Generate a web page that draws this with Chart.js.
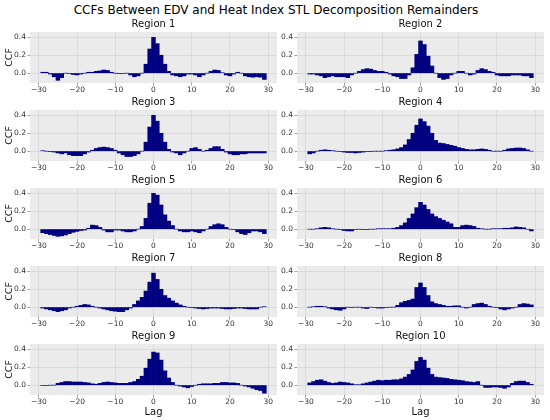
<!DOCTYPE html>
<html>
<head>
<meta charset="utf-8">
<script src="https://cdn.jsdelivr.net/npm/chart.js@4.4.0/dist/chart.umd.min.js"></script>
<style>
  html, body { margin: 0; padding: 0; background: #fff; }
  #fig { position: relative; width: 550px; height: 420px; overflow: hidden; font-family: 'DejaVu Sans', sans-serif; }
  #suptitle { position: absolute; left: 0; width: 552px; top: 3px; text-align: center; font-size: 12px; line-height: 15px; color: #000; }
  canvas { position: absolute; }
</style>
</head>
<body>
<div id="fig">
  <div id="suptitle">CCFs Between EDV and Heat Index STL Decomposition Remainders</div>
</div>
<script>
// lags -29 .. 29
const lags = [-29, -28, -27, -26, -25, -24, -23, -22, -21, -20,
              -19, -18, -17, -16, -15, -14, -13, -12, -11, -10,
              -9, -8, -7, -6, -5, -4, -3, -2, -1, 0,
              1, 2, 3, 4, 5, 6, 7, 8, 9, 10,
              11, 12, 13, 14, 15, 16, 17, 18, 19, 20,
              21, 22, 23, 24, 25, 26, 27, 28, 29];
const lagTicks = [-30, -20, -10, 0, 10, 20, 30];
const ccfTicks = [0, 0.2, 0.4];
const regionNames = ['Region 1', 'Region 2', 'Region 3', 'Region 4', 'Region 5',
                     'Region 6', 'Region 7', 'Region 8', 'Region 9', 'Region 10'];

const ccfRegion1 = [0.01, 0.01, -0.01, -0.04, -0.08, -0.05, 0.0, -0.005, -0.015, -0.02,
  -0.01, 0.0, 0.01, 0.01, 0.02, 0.025, 0.035, 0.03, 0.01, 0.0,
  -0.005, -0.005, 0.0, -0.02, -0.04, -0.03, 0.0, 0.1, 0.27, 0.40,
  0.33, 0.2, 0.1, 0.02, -0.02, -0.03, -0.04, -0.03, -0.01, -0.01,
  -0.02, -0.04, -0.02, 0.0, 0.02, 0.035, 0.03, 0.005, -0.02, -0.03,
  -0.01, 0.01, 0.0, -0.03, -0.04, -0.045, -0.04, -0.045, -0.07];
const ccfRegion2 = [-0.01, -0.01, -0.02, -0.03, -0.05, -0.04, -0.03, -0.04, -0.04, -0.04,
  -0.05, -0.02, 0.0, 0.02, 0.04, 0.05, 0.045, 0.03, 0.02, 0.02,
  0.01, -0.01, -0.03, -0.04, -0.06, -0.06, -0.02, 0.06, 0.21, 0.36,
  0.32, 0.19, 0.08, 0.0, -0.05, -0.07, -0.06, -0.02, 0.0, 0.02,
  0.02, 0.0, -0.02, -0.01, 0.03, 0.05, 0.04, 0.02, 0.01, -0.02,
  -0.03, -0.03, -0.03, -0.02, -0.02, -0.02, -0.03, -0.03, -0.05];
const ccfRegion3 = [0.005, 0.0, -0.005, -0.01, -0.02, -0.03, -0.02, -0.04, -0.05, -0.05,
  -0.05, -0.03, -0.01, 0.01, 0.03, 0.04, 0.045, 0.04, 0.03, 0.01,
  -0.02, -0.04, -0.06, -0.06, -0.05, -0.03, 0.0, 0.1, 0.27, 0.40,
  0.335, 0.2, 0.1, 0.02, -0.01, -0.02, -0.04, -0.02, 0.0, 0.03,
  0.04, 0.02, 0.0, 0.01, 0.03, 0.05, 0.05, 0.02, -0.01, -0.03,
  -0.04, -0.04, -0.03, -0.03, -0.02, -0.02, -0.02, -0.02, -0.02];
const ccfRegion4 = [-0.03, -0.02, 0.0, 0.01, 0.015, 0.01, 0.005, 0.0, -0.005, -0.01,
  -0.015, -0.015, -0.02, -0.015, -0.01, -0.005, -0.005, 0.0, 0.0, 0.0,
  0.005, 0.01, 0.015, 0.025, 0.04, 0.07, 0.13, 0.2, 0.29, 0.36,
  0.33, 0.28, 0.2, 0.12, 0.09, 0.085, 0.075, 0.065, 0.055, 0.04,
  0.03, 0.02, 0.015, 0.015, 0.02, 0.025, 0.02, 0.01, 0.0, 0.0,
  0.0, 0.01, 0.025, 0.03, 0.035, 0.035, 0.03, 0.015, 0.0];
const ccfRegion5 = [-0.04, -0.05, -0.06, -0.07, -0.08, -0.075, -0.065, -0.05, -0.035, -0.025,
  -0.015, -0.01, 0.01, 0.045, 0.04, 0.02, -0.01, -0.03, -0.03, -0.01,
  -0.01, -0.02, -0.03, -0.03, -0.02, 0.0, 0.03, 0.12, 0.29, 0.40,
  0.38, 0.27, 0.16, 0.09, 0.04, 0.0, -0.02, -0.03, -0.03, -0.02,
  -0.03, -0.04, -0.02, 0.0, 0.03, 0.05, 0.06, 0.05, 0.02, 0.0,
  -0.005, -0.03, -0.05, -0.06, -0.04, -0.02, -0.02, -0.03, -0.05];
const ccfRegion6 = [0.0, 0.0, 0.005, 0.015, 0.02, 0.015, 0.005, 0.0, -0.005, -0.015,
  -0.02, -0.02, -0.005, 0.0, -0.005, -0.005, 0.0, 0.0, 0.005, 0.005,
  0.005, 0.005, 0.01, 0.02, 0.04, 0.07, 0.12, 0.17, 0.24, 0.30,
  0.27, 0.22, 0.17, 0.14, 0.12, 0.1, 0.08, 0.06, 0.02, 0.02,
  0.04, 0.045, 0.04, 0.03, 0.01, 0.005, 0.0, 0.0, 0.005, 0.005,
  0.005, 0.01, 0.01, 0.015, 0.025, 0.02, 0.015, 0.0, -0.02];
const ccfRegion7 = [-0.01, -0.02, -0.03, -0.04, -0.05, -0.04, -0.03, -0.01, 0.0, 0.01,
  0.02, 0.03, 0.025, 0.01, 0.0, -0.01, -0.02, -0.03, -0.04, -0.045,
  -0.05, -0.05, -0.03, -0.01, 0.03, 0.07, 0.11, 0.18, 0.28, 0.38,
  0.31, 0.2, 0.13, 0.1, 0.07, 0.045, 0.025, 0.01, 0.0, -0.005,
  -0.01, -0.015, -0.02, -0.015, -0.01, -0.01, -0.01, -0.015, -0.02, -0.02,
  -0.015, -0.01, -0.01, -0.015, -0.02, -0.02, -0.02, 0.0, 0.005];
const ccfRegion8 = [0.0, 0.005, 0.01, 0.01, 0.005, -0.01, -0.02, -0.03, -0.035, -0.02,
  0.0, -0.005, 0.0, 0.0, -0.01, -0.015, 0.0, -0.005, -0.01, -0.01,
  -0.005, 0.0, 0.0, 0.02, 0.05, 0.065, 0.075, 0.09, 0.22, 0.27,
  0.22, 0.13, 0.06, 0.04, 0.03, 0.02, 0.01, 0.01, 0.015, 0.015,
  0.0, -0.01, 0.0, 0.03, 0.04, 0.045, 0.03, 0.01, 0.0, -0.005,
  -0.02, -0.03, -0.02, -0.01, 0.0, 0.03, 0.04, 0.035, 0.025];
const ccfRegion9 = [-0.005, -0.005, 0.0, 0.0, 0.02, 0.03, 0.04, 0.04, 0.035, 0.035,
  0.035, 0.03, 0.025, 0.015, 0.01, 0.02, 0.03, 0.035, 0.03, 0.025,
  0.02, 0.02, 0.02, 0.03, 0.04, 0.065, 0.1, 0.19, 0.29, 0.37,
  0.36, 0.28, 0.16, 0.08, 0.03, 0.0, -0.01, -0.02, -0.03, -0.015,
  0.0, 0.01, 0.015, 0.015, 0.015, 0.02, 0.02, 0.03, 0.03, 0.025,
  0.025, 0.02, 0.0, -0.01, -0.02, -0.035, -0.05, -0.06, -0.09];
const ccfRegion10 = [0.025, 0.04, 0.055, 0.06, 0.045, 0.03, 0.02, 0.025, 0.035, 0.03,
  0.025, 0.015, 0.005, 0.005, 0.015, 0.025, 0.035, 0.045, 0.055, 0.05,
  0.055, 0.055, 0.06, 0.06, 0.07, 0.09, 0.12, 0.17, 0.265, 0.31,
  0.28, 0.19, 0.12, 0.09, 0.085, 0.08, 0.075, 0.065, 0.06, 0.055,
  0.05, 0.04, 0.035, 0.03, 0.04, 0.0, -0.025, -0.025, -0.02, -0.02,
  -0.025, -0.035, -0.02, 0.02, 0.04, 0.045, 0.045, 0.03, 0.01];

const allRegions = [ccfRegion1, ccfRegion2, ccfRegion3, ccfRegion4, ccfRegion5,
                    ccfRegion6, ccfRegion7, ccfRegion8, ccfRegion9, ccfRegion10];

// panel geometry (chart area placement in the 550x420 figure)
const plotW = 247, plotH = 51;
const colLeft = [30, 297];
const rowTop = [32, 110, 188, 266, 344];
const yAxisW = 30, titleH = 16, padRight = 4;

Chart.defaults.font.family = "'DejaVu Sans', sans-serif";

// grey axes background like the matplotlib style
const panelBg = {
    id: 'panelBg',
    beforeDraw(chart) {
        const a = chart.chartArea;
        const ctx = chart.ctx;
        ctx.save();
        ctx.fillStyle = '#ebebeb';
        ctx.fillRect(a.left, a.top, a.right - a.left, a.bottom - a.top);
        ctx.restore();
    }
};

function fmtLag(v) {
    return v < 0 ? '\u2212' + (-v) : String(v);
}

const fig = document.getElementById('fig');

allRegions.forEach((vals, i) => {
    const col = i % 2;
    const row = Math.floor(i / 2);
    const last = row === 4;
    const xAxisH = last ? 24 : 12;

    const cv = document.createElement('canvas');
    cv.width = yAxisW + plotW + padRight;
    cv.height = titleH + plotH + xAxisH;
    cv.style.left = (colLeft[col] - yAxisW) + 'px';
    cv.style.top = (rowTop[row] - titleH) + 'px';
    fig.appendChild(cv);

    const gridOpts = { offset: false, color: '#d6d6d6', lineWidth: 0.8, tickLength: 2.5, tickColor: '#888', tickWidth: 0.8 };

    new Chart(cv.getContext('2d'), {
        type: 'bar',
        data: {
            datasets: [{
                data: vals.map((v, k) => ({ x: lags[k], y: v })),
                backgroundColor: '#000080',
                borderWidth: 0,
                barPercentage: 1,
                categoryPercentage: 1,
            }],
        },
        options: {
            responsive: false,
            animation: false,
            layout: { padding: { left: 0, right: padRight, top: 0, bottom: 0 } },
            plugins: {
                legend: { display: false },
                tooltip: { enabled: false },
                title: {
                    display: true,
                    text: regionNames[i],
                    fullSize: false,
                    color: '#111',
                    font: { size: 10, weight: 'normal', lineHeight: 1.2 },
                    padding: { top: 2.5, bottom: 1.5 },
                },
            },
            scales: {
                x: {
                    type: 'linear',
                    min: -32.3,
                    max: 32.3,
                    offset: false,
                    afterBuildTicks: s => { s.ticks = lagTicks.map(v => ({ value: v })); },
                    afterFit: s => { s.height = xAxisH; },
                    grid: gridOpts,
                    border: { display: false },
                    ticks: { autoSkip: false, maxRotation: 0, color: '#333', padding: 1,
                             font: { size: 7.5, lineHeight: 1 }, callback: v => fmtLag(v) },
                    title: { display: last, text: 'Lag', color: '#111',
                             font: { size: 10, lineHeight: 1.2 }, padding: { top: 0, bottom: 1 } },
                },
                y: {
                    min: -0.11,
                    max: 0.46,
                    afterBuildTicks: s => { s.ticks = ccfTicks.map(v => ({ value: v })); },
                    afterFit: s => { s.width = yAxisW; },
                    grid: gridOpts,
                    border: { display: false },
                    ticks: { color: '#333', padding: 1.5, font: { size: 7.5 }, callback: v => v.toFixed(1) },
                    title: { display: col === 0, text: 'CCF', color: '#111',
                             font: { size: 9.5, lineHeight: 1.2 }, padding: { top: 4 } },
                },
            },
        },
        plugins: [panelBg],
    });
});
</script>
</body>
</html>
